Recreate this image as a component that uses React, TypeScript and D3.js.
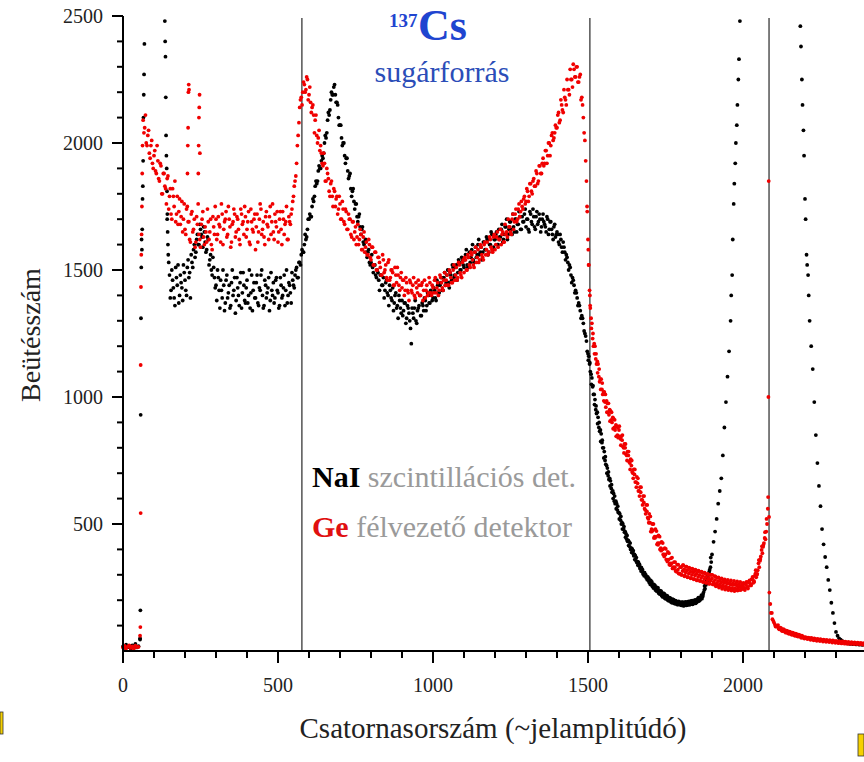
import React from "react";
import * as d3 from "d3";

// Channel step of the main arrays (value i belongs to channel i*STEP)
const STEP = 5;

// NaI scintillation detector counts (black), channels 0..2395 step 5
const naiCounts = [
  18,12,25,15,20,10,22,16,28,14,19,45,1620,1930,2560,2650,2800,2950,3100,3200,
  3150,3050,2950,2900,2850,2800,2750,2480,1950,1600,1480,1420,1460,1390,1510,1440,1370,1480,1430,1520,
  1460,1400,1540,1490,1560,1510,1600,1570,1640,1600,1660,1630,1670,1610,1580,1620,1540,1500,1550,1470,
  1440,1500,1420,1460,1390,1440,1370,1480,1410,1350,1450,1400,1470,1380,1430,1360,1490,1410,1440,1370,
  1460,1400,1350,1480,1420,1390,1450,1370,1430,1480,1400,1360,1440,1410,1470,1380,1420,1450,1390,1470,
  1410,1360,1440,1400,1480,1420,1370,1450,1410,1490,1440,1480,1510,1470,1530,1560,1570,1600,1620,1660,
  1700,1710,1750,1770,1830,1840,1890,1900,1930,1940,2000,2020,2090,2110,2170,2190,2220,2190,2160,2100,
  2070,2020,2000,1950,1940,1890,1870,1820,1810,1770,1760,1710,1710,1670,1660,1610,1610,1570,1570,1530,
  1530,1510,1520,1480,1500,1460,1480,1440,1470,1420,1460,1400,1440,1390,1430,1370,1410,1360,1400,1350,
  1380,1340,1370,1310,1350,1300,1210,1330,1350,1300,1340,1360,1320,1370,1340,1380,1360,1400,1370,1410,
  1390,1420,1380,1440,1410,1450,1420,1470,1440,1480,1450,1490,1460,1510,1480,1520,1490,1530,1500,1540,
  1510,1560,1520,1550,1530,1580,1540,1570,1550,1600,1560,1590,1570,1610,1580,1620,1570,1600,1640,1590,
  1620,1650,1600,1630,1660,1610,1640,1670,1620,1660,1690,1640,1670,1700,1650,1680,1710,1660,1690,1720,
  1670,1700,1650,1720,1680,1710,1660,1730,1690,1700,1670,1720,1680,1650,1700,1660,1690,1640,1670,1630,
  1650,1610,1640,1590,1610,1570,1560,1530,1520,1480,1470,1440,1420,1390,1370,1340,1320,1290,1250,1220,
  1170,1130,1090,1040,1010,950,940,880,870,820,800,750,730,690,680,640,630,590,590,555,
  545,515,505,480,470,440,435,410,405,385,380,355,352,335,330,312,308,296,292,278,
  272,268,255,252,242,240,230,230,220,220,210,212,203,202,196,197,190,190,188,187,
  188,182,186,183,188,185,190,187,192,190,196,200,205,208,215,240,260,280,300,330,
  380,430,470,520,580,630,680,770,880,980,1080,1180,1300,1480,1760,1920,2070,2250,2480,2700,
  2900,3050,3200,3300,3400,3500,3550,3600,3650,3700,3700,3650,3600,3550,3500,3400,3300,3250,3150,3100,
  3050,3000,2950,2900,2850,2800,2750,2700,2680,2650,2630,2610,2600,2580,2560,2550,2530,2460,2250,2050,
  1780,1560,1480,1300,1200,1110,980,850,740,650,570,480,420,370,330,280,240,190,150,110,
  75,60,50,45,40,36,34,30,32,28,30,27,29,26,28,25,27,24,26,25,
];

// Interleaved NaI readings, channels 142.5, 147.5, ...
const NAI_B_START = 142.5;
const naiCountsB = [
  1700,1530,1390,1500,1430,1360,1470,1520,1400,1450,1380,1490,
  1420,1510,1470,1390,1530,1580,1550,1620,1600,1680,1640,1590,1650,1570,1630,1520,1560,1480,1510,1430,
  1380,1470,1350,1420,1500,1340,1460,1390,1440,1360,1500,1420,1330,1470,1400,1450,1350,1490,1380,1430,
  1370,1500,1410,1340,1450,1390,1480,1360,1420,1500,1350,1460,1390,1430,1340,1490,1400,1370,1460,1420,
  1350,1470,1390,1430,1360,1500,1400,1440,1370,1460,1430,1500,1470,1530,1520,1580,1570,1640,1630,1700,
  1720,1710,1780,1790,1850,1850,1910,1900,1950,1960,2030,2040,2120,2130,2200,2190,2230,2160,2150,2070,
  2070,1990,2000,1920,1940,1860,1880,1790,1820,1740,1760,1690,1720,1640,1670,1600,1620,1550,1580,1520,
  1560,1490,1520,1470,1490,1420,1480,1440,1390,1450,1410,1360,1420,1380,1340,1400,1350,1310,1380,1330,
  1320,1370,1290,1360,1330,1270,1350,1310,1380,1290,1350,1400,1320,1360,1390,1340,1410,1370,1420,1380,
  1430,1390,1460,1410,1440,1470,1420,1490,1450,1500,1430,1480,1520,1470,1510,1460,1540,1500,1550,1520,
  1540,1580,1510,1570,1550,1600,1530,1590,1560,1620,1570,1540,1610,1580,1630,1560,1600,1650,1580,1620,
  1640,1600,1660,1630,1680,1620,1670,1700,1640,1690,1660,1720,1650,1700,1680,1730,1660,1710,1690,1740,
  1700,1660,1730,1690,1740,1670,1710,1680,1720,1650,1700,1690,1670,1710,1640,1690,1660,1620,1680,1640,
  1640,1600,1620,1570,1590,1540,1550,1500,1510,1450,1460,1410,1410,1360,1360,1310,1310,1260,1240,1180,
  1160,1100,1075,1010,990,935,920,865,855,800,785,735,720,675,670,625,620,580,580,545,
  540,500,500,468,462,432,430,400,402,375,375,348,350,325,328,303,308,288,292,270,
  278,255,262,240,250,228,238,218,228,208,219,200,210,193,204,188,198,183,195,182,
  192,178,192,180,194,182,197,184,199,188,204,196,212,206,230,245,275,285,320,350,
];

// Third NaI reading set on the falling tail, channels 1501, 1506, ...
const NAI_C_START = 1501;
const naiCountsC = [
  1145,1135,1050,1045,970,965,895,900,825,830,760,765,700,705,650,655,600,610,560,570,
  520,530,480,490,448,455,415,425,388,395,360,368,338,342,315,320,296,301,281,286,
  262,272,248,258,236,248,224,236,213,226,205,217,197,208,190,202,186,195,183,192,
  180,192,179,193,181,195,184,198,187,201,192,210,200,220,222,256,265,300,312,368,
];

// Ge semiconductor detector counts (red), channels 0..2395 step 5
const geCounts = [
  14,20,10,17,22,12,18,9,21,15,16,60,1640,2090,2060,2000,2030,1960,1990,1920,
  1950,1890,1990,1860,1920,1800,1880,1830,1760,1870,1790,1720,1820,1750,1690,1790,1730,1680,1770,1700,
  1660,1740,1690,1620,1720,1650,1700,1610,1680,1640,1590,1700,1630,1670,1610,1690,1650,1600,1710,1640,
  1700,1640,1680,1610,1720,1660,1700,1630,1750,1670,1610,1690,1720,1650,1700,1620,1740,1680,1640,1710,
  1660,1730,1600,1690,1650,1720,1670,1610,1700,1740,1660,1630,1710,1680,1620,1750,1690,1650,1720,1670,
  1610,1700,1660,1730,1640,1690,1620,1710,1680,1740,1790,1850,1920,2030,2140,2180,2200,2230,2210,2250,
  2190,2160,2140,2110,2090,2030,2020,1970,1960,1910,1920,1850,1880,1810,1840,1790,1820,1750,1790,1740,
  1760,1700,1740,1680,1730,1660,1700,1640,1690,1620,1670,1630,1600,1660,1580,1630,1570,1610,1560,1600,
  1540,1590,1520,1570,1500,1550,1510,1480,1540,1500,1470,1530,1460,1500,1490,1440,1480,1510,1440,1470,
  1430,1460,1420,1450,1410,1460,1420,1440,1400,1450,1410,1440,1400,1450,1420,1390,1440,1410,1450,1400,
  1430,1460,1410,1450,1420,1470,1430,1460,1440,1480,1440,1490,1450,1500,1460,1510,1470,1520,1480,1530,
  1490,1540,1500,1550,1510,1560,1520,1570,1530,1580,1540,1590,1550,1600,1560,1610,1570,1620,1580,1630,
  1580,1630,1590,1620,1600,1650,1610,1640,1630,1670,1650,1700,1660,1720,1690,1740,1710,1770,1740,1790,
  1770,1810,1790,1840,1800,1860,1830,1880,1850,1910,1880,1940,1920,1970,1950,2000,1990,2040,2020,2070,
  2060,2120,2090,2150,2120,2180,2150,2210,2190,2250,2220,2290,2260,2300,2240,2270,2180,2100,2010,1850,
  1620,1420,1310,1230,1210,1150,1140,1080,1070,1030,1020,980,985,940,950,910,920,880,890,850,
  870,835,830,800,800,770,770,740,730,700,695,665,660,630,625,595,585,555,550,520,
  505,480,475,450,450,425,425,405,400,380,380,360,360,345,345,330,330,315,320,305,
  330,315,322,310,318,305,312,300,310,298,305,292,300,288,296,284,292,280,288,278,
  285,272,280,266,275,262,270,258,268,255,265,250,262,248,260,246,258,250,255,248,
  258,248,262,252,270,262,285,276,305,300,345,355,398,410,445,470,560,230,150,125,
  112,96,98,88,92,80,86,76,80,70,76,66,72,62,68,58,64,56,60,52,
  55,50,53,48,52,46,50,44,48,43,47,42,45,40,44,39,43,38,42,37,
  40,36,39,35,38,34,37,33,36,32,35,31,34,30,33,30,32,29,31,28,
];

// Interleaved Ge readings, channels 67.5, 72.5, ...
const GE_B_START = 67.5;
const geCountsB = [
  2040,2110,1990,2050,1940,2010,1900,1970,1880,1930,1850,1910,1800,1880,1820,
  1860,1740,1820,1700,1790,1850,1720,1680,1780,1710,1650,1760,
  1640,1750,1690,1610,1730,1660,1590,1710,1760,1620,1680,1730,1600,1650,1740,1620,1700,1580,1670,1750,
  1620,1710,1670,1760,1600,1690,1730,1640,1700,1590,1680,1740,1630,1710,1660,1600,1720,1690,1750,1630,
  1690,1610,1740,1660,1700,1580,1720,1650,1760,1640,1690,1600,1730,1670,1710,1640,1760,1620,1690,1730,
  1650,1730,1600,1700,1680,1750,1620,1690,1720,1770,1830,1870,1990,2080,2170,2150,2240,2200,2260,2170,
  2220,2120,2150,2040,2110,2000,2050,1990,1920,1960,1850,1900,1860,1790,1850,1750,1810,1780,1720,1790,
  1700,1770,1690,1740,1660,1720,1700,1630,1690,1650,1600,1680,1620,1640,1580,1650,1590,1560,1620,1550,
  1590,1520,1570,1500,1550,1530,1480,1560,1490,1520,1460,1540,1470,1500,1440,1510,1450,1480,1420,1490,
  1460,1400,1470,1420,1380,1450,1410,1470,1390,1430,1460,1400,1440,1380,1460,1420,1400,1470,1410,1440,
  1410,1470,1430,1400,1480,1450,1420,1490,1460,1440,1500,1470,1450,1520,1480,1460,1530,1490,1470,1540,
  1550,1500,1560,1520,1570,1540,1510,1590,1550,1530,1600,1560,1540,1610,1580,1560,1630,1590,1570,1640,
  1600,1650,1620,1660,1640,1610,1680,1650,1700,1670,1640,1720,1690,1740,1700,1760,1730,1750,1780,1760,
  1820,1770,1840,1810,1850,1830,1890,1840,1910,1880,1920,1910,1970,1920,2000,1950,2030,2010,2040,2060,
  2110,2080,2170,2130,2210,2170,2250,2210,2290,2250,2310,2260,2300,2240,2260,2170,2150,2040,1930,1730,
  1520,1350,1290,1200,1200,1130,1130,1060,1070,1010,1020,960,975,930,945,900,915,870,885,840,
  845,845,805,815,775,785,745,755,705,715,665,685,630,645,595,610,560,575,525,540,
  470,500,445,480,420,455,400,430,380,405,360,390,340,365,325,350,315,340,305,330,
  300,338,298,332,292,326,288,322,284,318,280,314,276,310,272,306,270,302,266,300,
  262,295,255,288,250,282,245,278,242,272,240,270,238,266,236,266,238,264,240,262,
  245,266,250,272,258,282,268,296,290,318,330,372,385,425,440,500,
];

// Third Ge reading set on the falling tail, channels 1501, 1506, ...
const GE_C_START = 1501;
const geCountsC = [
  1580,1400,1270,1250,1170,1170,1095,1110,1030,1055,985,1010,940,975,905,940,875,910,845,880,
  885,810,850,780,815,750,785,715,750,680,715,645,680,610,645,575,610,540,575,505,
  530,470,500,445,472,418,450,395,425,372,402,352,385,338,368,325,350,312,340,305,
  300,338,294,332,290,328,286,324,282,320,278,316,276,312,272,308,268,304,264,300,
  300,262,294,258,290,255,286,252,282,248,280,246,278,244,276,242,274,240,272,244,
  268,240,272,246,278,258,292,272,318,304,358,362,412,418,468,520,
];

// Fourth Ge reading set after the last marker, channels 2088, 2093, ...
const GE_D_START = 2088;
const geCountsD = [
  185,150,118,104,96,102,85,90,78,84,72,79,68,74,64,70,60,66,57,62,
  52,57,49,54,47,52,44,50,42,47,40,46,39,44,37,43,36,41,35,40,
  33,39,32,37,31,36,30,35,29,34,28,33,28,32,27,31,27,30,26,29,25,
];

// Extra points on the steep edges (channel, count)
const naiEdgeChannels = [55,56,57,58,59,61,62,63,64,66,67,68,69,136,137,138,139,141,142,143,144,146,1962,1967,1972,1977,1982,1987,2187,2192,2197,2202,2207,2212];
const naiEdgeCounts = [50,160,930,1310,1510,1580,1660,1780,1830,2100,2190,2270,2390,2400,2340,2180,2030,1900,1810,1720,1650,1560,1400,1620,1840,2000,2150,2330,2380,2150,1950,1700,1520,1400];
const geEdgeChannels = [56,57,57,58,59,61,62,63,208,209,210,211,212,213,243,244,245,246,247,248,1497,1502,1507,2081,2082,2083,2084];
const geEdgeCounts = [94,543,1126,1433,1560,1750,1880,1990,1880,1990,2060,2200,2230,2210,1880,1990,2100,2140,2190,1960,1750,1520,1360,606,1000,1850,528];

// Vertical marker lines (channels)
const markerChannels = [577, 1506, 2084];

const xMajorTicks = [0, 500, 1000, 1500, 2000];
const yMajorTicks = [500, 1000, 1500, 2000, 2500];

const SERIF = "'Liberation Serif', 'Times New Roman', 'DejaVu Serif', serif";
const ts = { fontFamily: SERIF };

const toPts = (arr: number[], start: number) => arr.map((v, i) => [start + i * STEP, v]);

export default function App() {
  const W = 864, H = 762;
  const x = d3.scaleLinear().domain([0, 2400]).range([123, 867]);
  const y = d3.scaleLinear().domain([0, 2500]).range([651, 16]);
  const x0 = x(0), y0 = y(0);

  const naiPts = toPts(naiCounts, 0)
    .concat(toPts(naiCountsB, NAI_B_START))
    .concat(toPts(naiCountsC, NAI_C_START))
    .concat(naiEdgeChannels.map((c, i) => [c, naiEdgeCounts[i]]));
  const gePts = toPts(geCounts, 0)
    .concat(toPts(geCountsB, GE_B_START))
    .concat(toPts(geCountsC, GE_C_START))
    .concat(toPts(geCountsD, GE_D_START))
    .concat(geEdgeChannels.map((c, i) => [c, geEdgeCounts[i]]));

  const xMinor = d3.range(0, 2401, 100).filter((t) => t % 500 !== 0);
  const yMinor = d3.range(100, 2500, 100).filter((t) => t % 500 !== 0);

  return (
    <svg width={W} height={H} style={{ position: "absolute", left: 0, top: 0, background: "#fff", fontFamily: SERIF }}>
      <defs>
        <clipPath id="plotClip">
          <rect x={x0 - 4} y={y(2500) - 2} width={W - x0 + 4} height={y0 - y(2500) + 6} />
        </clipPath>
      </defs>
      <rect x={0} y={0} width={W} height={H} fill="#fff" />

      {/* vertical marker lines */}
      {markerChannels.map((c) => (
        <line key={c} x1={x(c)} x2={x(c)} y1={18} y2={y0} stroke="#5e5e5e" strokeWidth={1.6} />
      ))}

      {/* data points */}
      <g clipPath="url(#plotClip)">
        {naiPts.map((p, i) => (
          <circle key={"n" + i} cx={x(p[0])} cy={y(p[1])} r={1.9} fill="#000" />
        ))}
        {gePts.map((p, i) => (
          <circle key={"g" + i} cx={x(p[0])} cy={y(p[1])} r={1.9} fill="#f00000" />
        ))}
      </g>

      {/* axes */}
      <line x1={x0} x2={x0} y1={y(2500)} y2={y0} stroke="#000" strokeWidth={2} />
      <line x1={x0 - 1} x2={W} y1={y0} y2={y0} stroke="#000" strokeWidth={2} />
      {yMajorTicks.map((t) => (
        <g key={"ym" + t}>
          <line x1={x0 - 11} x2={x0} y1={y(t)} y2={y(t)} stroke="#000" strokeWidth={2} />
          <text x={x0 - 20} y={y(t)} dy="0.35em" textAnchor="end" fontSize={20} fill="#222" style={ts}>{t}</text>
        </g>
      ))}
      {yMinor.map((t) => (
        <line key={"yn" + t} x1={x0 - 6} x2={x0} y1={y(t)} y2={y(t)} stroke="#000" strokeWidth={2} />
      ))}
      {xMajorTicks.map((t) => (
        <g key={"xm" + t}>
          <line x1={x(t)} x2={x(t)} y1={y0} y2={y0 + 12} stroke="#000" strokeWidth={2} />
          <text x={x(t)} y={692} textAnchor="middle" fontSize={20} fill="#222" style={ts}>{t}</text>
        </g>
      ))}
      {xMinor.map((t) => (
        <line key={"xn" + t} x1={x(t)} x2={x(t)} y1={y0} y2={y0 + 7} stroke="#000" strokeWidth={2} />
      ))}

      {/* axis titles */}
      <text x={493} y={738} textAnchor="middle" fontSize={29} fill="#222" style={ts}>Csatornasorszám (~jelamplitúdó)</text>
      <text transform="translate(40,335) rotate(-90)" textAnchor="middle" fontSize={28} fill="#222" style={ts}>Beütésszám</text>

      {/* title */}
      <text x={389} y={27} fontSize={19} fontWeight="bold" fill="#1f45d0" style={ts}>137</text>
      <text x={418} y={40} fontSize={44} fontWeight="bold" fill="#1f45d0" style={ts}>Cs</text>
      <text x={442} y={82} textAnchor="middle" fontSize={30} fill="#2b4db8" style={ts}>sugárforrás</text>

      {/* legend */}
      <text x={312} y={487} fontSize={30} style={ts}>
        <tspan fontWeight="bold" fill="#000">NaI</tspan>
        <tspan fill="#9a9a9a"> szcintillációs det.</tspan>
      </text>
      <text x={312} y={537} fontSize={30} style={ts}>
        <tspan fontWeight="bold" fill="#e01010">Ge</tspan>
        <tspan fill="#9a9a9a"> félvezető detektor</tspan>
      </text>

      {/* small yellow marks at the edges */}
      <rect x={0} y={712} width={3} height={22} fill="#f5d000" stroke="#333" strokeWidth={0.8} />
      <rect x={858} y={734} width={6} height={22} fill="#f5d000" stroke="#333" strokeWidth={0.8} />
    </svg>
  );
}
